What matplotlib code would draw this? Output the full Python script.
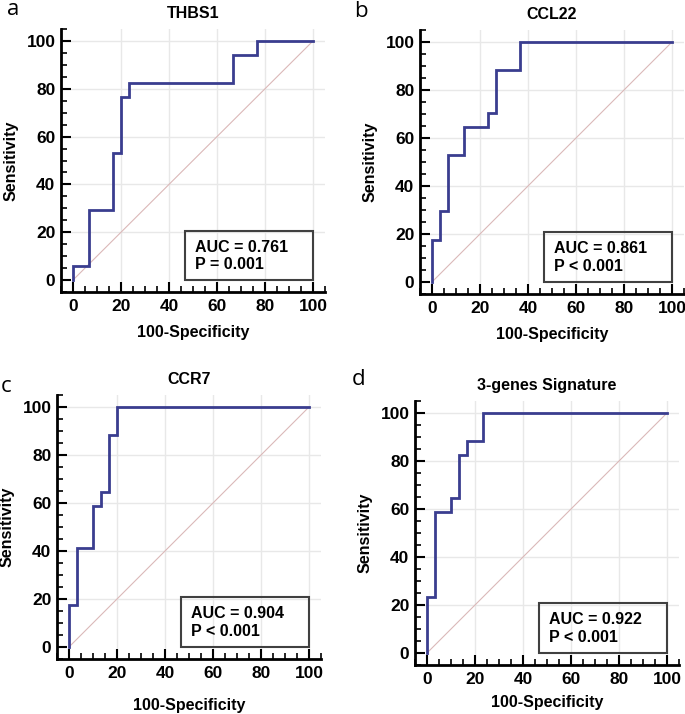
import matplotlib
matplotlib.use('Agg')
import matplotlib.pyplot as plt
from matplotlib.patches import Rectangle
from matplotlib.ticker import MultipleLocator

plt.rcParams['font.family'] = ['Liberation Sans', 'DejaVu Sans']
plt.rcParams['font.weight'] = 'bold'

# ROC step points (100-specificity, sensitivity)
thbs1_x = [0, 0, 6.67, 6.67, 16.67, 16.67, 20, 20, 23.33, 23.33, 66.67, 66.67, 76.67, 76.67, 100]
thbs1_y = [0, 5.88, 5.88, 29.41, 29.41, 52.94, 52.94, 76.47, 76.47, 82.35, 82.35, 94.12, 94.12, 100, 100]

ccl22_x = [0, 0, 3.33, 3.33, 6.67, 6.67, 13.33, 13.33, 23.33, 23.33, 26.67, 26.67, 36.67, 36.67, 100]
ccl22_y = [0, 17.65, 17.65, 29.41, 29.41, 52.94, 52.94, 64.71, 64.71, 70.59, 70.59, 88.24, 88.24, 100, 100]

ccr7_x = [0, 0, 3.33, 3.33, 10, 10, 13.33, 13.33, 16.67, 16.67, 20, 20, 100]
ccr7_y = [0, 17.65, 17.65, 41.18, 41.18, 58.82, 58.82, 64.71, 64.71, 88.24, 88.24, 100, 100]

sig_x = [0, 0, 3.33, 3.33, 10, 10, 13.33, 13.33, 16.67, 16.67, 23.33, 23.33, 100]
sig_y = [0, 23.53, 23.53, 58.82, 58.82, 64.71, 64.71, 82.35, 82.35, 88.24, 88.24, 100, 100]

titles = ['THBS1', 'CCL22', 'CCR7', '3-genes Signature']
letters = ['a', 'b', 'c', 'd']
auc_txt = ['AUC = 0.761', 'AUC = 0.861', 'AUC = 0.904', 'AUC = 0.922']
p_txt = ['P = 0.001', 'P < 0.001', 'P < 0.001', 'P < 0.001']
curves = [(thbs1_x, thbs1_y), (ccl22_x, ccl22_y), (ccr7_x, ccr7_y), (sig_x, sig_y)]

W, H = 685, 714
# axes boxes in pixels: left, top, right, bottom
boxes = [(61, 29, 325, 292), (420, 30, 684, 294), (57, 395, 321, 659), (415, 401, 679, 665)]
letter_pos = [(7, 15), (354, 17), (1, 392), (352, 385)]
xlabel_pad = [8, 8, 12, 6]

fig = plt.figure(figsize=(W / 100, H / 100), dpi=100)

for i in range(4):
    l, t, r, b = boxes[i]
    ax = fig.add_axes([l / W, 1 - b / H, (r - l) / W, (b - t) / H])
    ax.set_xlim(-5, 105)
    ax.set_ylim(-5, 105)
    ax.set_xticks([0, 20, 40, 60, 80, 100])
    ax.set_yticks([0, 20, 40, 60, 80, 100])
    ax.xaxis.set_minor_locator(MultipleLocator(5))
    ax.yaxis.set_minor_locator(MultipleLocator(5))
    ax.tick_params(which='major', direction='in', length=7, width=1.5, labelsize=12.5, pad=5)
    ax.tick_params(axis='y', which='major', pad=4)
    ax.tick_params(which='minor', direction='in', length=4, width=1.2)
    for s in ['top', 'right']:
        ax.spines[s].set_visible(False)
    for s in ['left', 'bottom']:
        ax.spines[s].set_linewidth(2)
    for v in [20, 40, 60, 80, 100]:
        ax.axhline(v, color='#e8e8e8', lw=1, zorder=0)
        ax.axvline(v, color='#e8e8e8', lw=1, zorder=0)
    ax.plot([0, 100], [0, 100], color='#dbb8b8', lw=0.8, zorder=1)
    cx, cy = curves[i]
    ax.plot(cx, cy, color='#3a3d8f', lw=2, zorder=3, solid_joinstyle='miter')
    ax.add_patch(Rectangle((46.7, 0), 53.3, 20.7, fill=False, edgecolor='#404040', lw=1.5, zorder=4))
    ax.text(51, 13.8, auc_txt[i], fontsize=11.5, fontweight='bold', va='center', ha='left', zorder=5)
    ax.text(51, 6.3, p_txt[i], fontsize=11.5, fontweight='bold', va='center', ha='left', zorder=5)
    ax.set_title(titles[i], fontsize=11.5, fontweight='bold', pad=8)
    ax.set_xlabel('100-Specificity', fontsize=11.5, fontweight='bold', labelpad=xlabel_pad[i])
    ax.set_ylabel('Sensitivity', fontsize=11.5, fontweight='bold', labelpad=6)
    lx, ly = letter_pos[i]
    fig.text(lx / W, 1 - ly / H, letters[i], fontsize=16, fontweight='normal',
             family=['Open Sans', 'DejaVu Sans'], va='baseline', ha='left')

fig.savefig('out.png', dpi=100)
